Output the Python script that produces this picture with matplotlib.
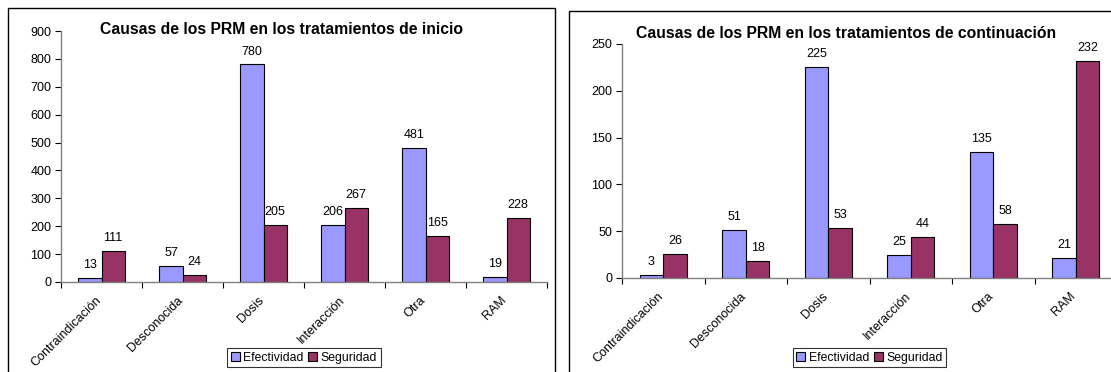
import matplotlib
matplotlib.use('Agg')
import matplotlib.pyplot as plt
from matplotlib.patches import Rectangle
from matplotlib.transforms import ScaledTranslation
import numpy as np

plt.rcParams['font.family'] = ['Liberation Sans', 'DejaVu Sans']

categorias = ['Contraindicación', 'Desconocida', 'Dosis', 'Interacción', 'Otra', 'RAM']
inicio_efectividad = [13, 57, 780, 206, 481, 19]
inicio_seguridad = [111, 24, 205, 267, 165, 228]
contin_efectividad = [3, 51, 225, 25, 135, 21]
contin_seguridad = [26, 18, 53, 44, 58, 232]

col_efe = '#9999FF'
col_seg = '#993366'

W, H = 1111, 372
fig = plt.figure(figsize=(W / 100, H / 100), dpi=100)


def px(x0, y0, x1, y1):
    # caja en pixeles (arriba-izquierda) -> coordenadas de figura
    return [x0 / W, 1 - y1 / H, (x1 - x0) / W, (y1 - y0) / H]


def grafico(caja, efe, seg, ymax, paso, titulo, tx, ty, leg_top):
    ax = fig.add_axes(px(*caja))
    x = np.arange(len(categorias))
    w = 0.285
    b1 = ax.bar(x - w / 2, efe, w, color=col_efe, edgecolor='black', linewidth=0.8, label='Efectividad')
    b2 = ax.bar(x + w / 2, seg, w, color=col_seg, edgecolor='black', linewidth=0.8, label='Seguridad')
    for barras, vals in ((b1, efe), (b2, seg)):
        for b, v in zip(barras, vals):
            ax.annotate(str(v), (b.get_x() + b.get_width() / 2, v), xytext=(0, 5),
                        textcoords='offset points', ha='center', va='bottom', fontsize=9)
    ax.set_xlim(-0.5, len(categorias) - 0.5)
    ax.set_ylim(0, ymax)
    ax.set_yticks(np.arange(0, ymax + 1, paso))
    ax.set_xticks(np.arange(-0.5, len(categorias)), [''] * (len(categorias) + 1))
    ax.set_xticks(x, categorias, minor=True, rotation=45, ha='right', va='top',
                  rotation_mode='anchor')
    ax.tick_params(axis='x', which='minor', length=0, pad=9, labelsize=9)
    ax.tick_params(axis='x', which='major', length=4, direction='out', width=0.8)
    ax.tick_params(axis='y', length=4, width=0.8, labelsize=9, pad=3)
    # etiquetas de categoria un poco a la izquierda
    desplaza = ScaledTranslation(-6 / 100, 0, fig.dpi_scale_trans)
    for lbl in ax.get_xticklabels(minor=True):
        lbl.set_transform(lbl.get_transform() + desplaza)
    for s in ('top', 'right'):
        ax.spines[s].set_visible(False)
    for s in ('left', 'bottom'):
        ax.spines[s].set_color('#808080')
        ax.spines[s].set_linewidth(1.0)
    fig.text(tx / W, 1 - ty / H, titulo, fontsize=11.3, fontweight='bold',
             ha='center', va='center')
    alto = caja[3] - caja[1]
    leg = ax.legend(loc='upper center', bbox_to_anchor=(0.5, -(leg_top - caja[3]) / alto), ncol=2,
                    fontsize=8.8, frameon=True, fancybox=False, handlelength=0.7, handleheight=0.7,
                    handletextpad=0.3, columnspacing=0.4, borderpad=0.3, borderaxespad=0)
    leg.get_frame().set_edgecolor('black')
    leg.get_frame().set_linewidth(0.8)
    return ax


ax1 = grafico((61, 31, 547, 282), inicio_efectividad, inicio_seguridad, 900, 100,
              'Causas de los PRM en los tratamientos de inicio', 282, 30, 348)
ax2 = grafico((622, 44, 1117, 278), contin_efectividad, contin_seguridad, 250, 50,
              'Causas de los PRM en los tratamientos de continuación', 846, 33, 348)

# marcos de cada grafico
fig.patches.append(Rectangle((8 / W, -0.1), (555 - 8) / W, 1.1 - 8 / H, transform=fig.transFigure,
                             fill=False, edgecolor='black', linewidth=1.0))
fig.patches.append(Rectangle((569 / W, -0.1), 0.6, 1.1 - 11 / H, transform=fig.transFigure,
                             fill=False, edgecolor='black', linewidth=1.0))

fig.savefig('out.png', dpi=100)
